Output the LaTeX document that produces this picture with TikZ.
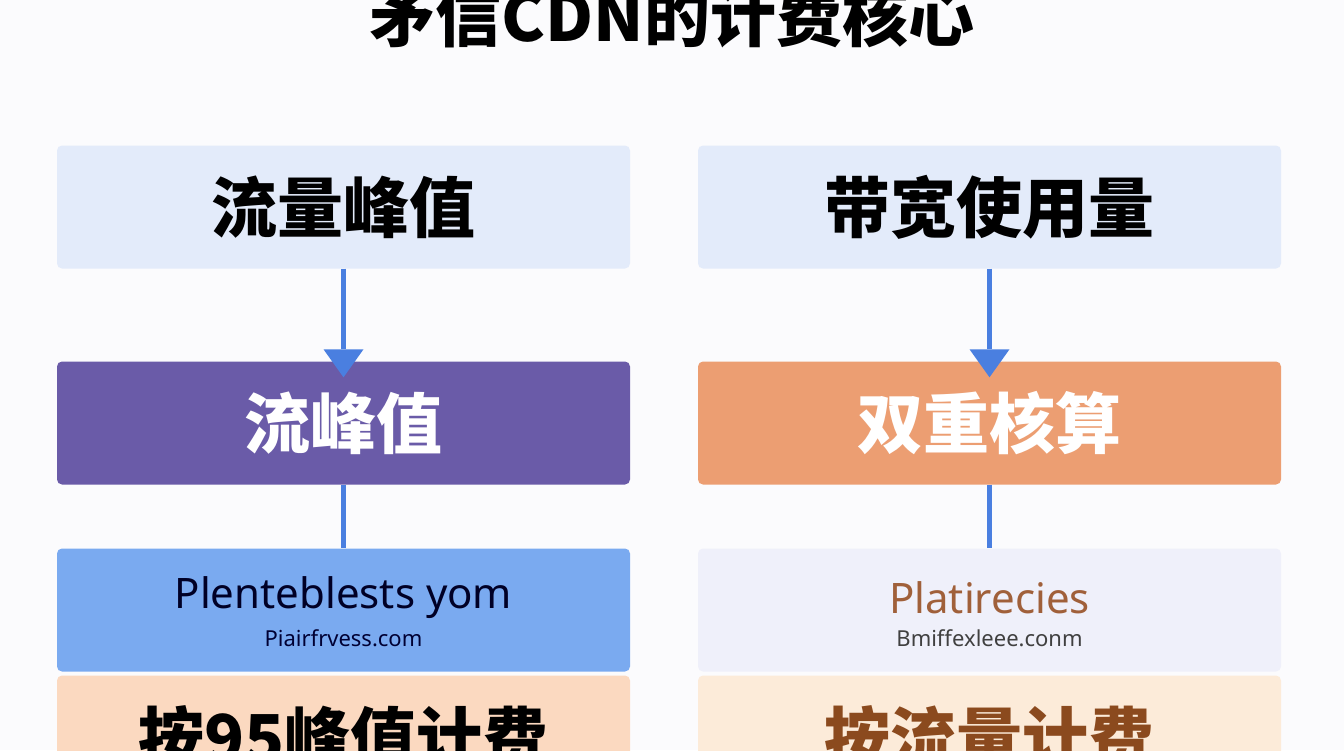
\documentclass[tikz,border=0pt]{standalone}
\usepackage{fontspec}
\setmainfont{Noto Sans CJK SC}
\newfontfamily\lat{Noto Sans}
\usetikzlibrary{arrows.meta}
\definecolor{bg}{HTML}{FBFBFD}
\definecolor{lb}{HTML}{E3EBFA}
\definecolor{pur}{HTML}{6A5BA8}
\definecolor{ora}{HTML}{EC9E72}
\definecolor{blu}{HTML}{7AAAF0}
\definecolor{lav}{HTML}{EFF0FA}
\definecolor{pea}{HTML}{FBD9C0}
\definecolor{pea2}{HTML}{FCEBD9}
\definecolor{arr}{HTML}{4A7FE0}
\definecolor{brn}{HTML}{A0603A}
\definecolor{dbrn}{HTML}{8B4A1E}
\begin{document}
\begin{tikzpicture}[x=1pt,y=-1pt,
 box/.style={rounded corners=5pt,inner sep=0pt,minimum height=123pt},
 lbox/.style={box,minimum width=573pt},
 rbox/.style={box,minimum width=583pt},
 big/.style={font=\fontsize{66}{66}\selectfont\bfseries},
 sub1/.style={font=\lat\fontsize{42}{44}\selectfont},
 sub2/.style={font=\lat\fontsize{22}{24}\selectfont},
 con/.style={draw=arr,line width=5pt},
 tip/.style={-{Triangle[width=40pt,length=28pt,line width=0pt,fill=arr]}}]
\fill[bg] (0,0) rectangle (1344,750);
\useasboundingbox (0,0) rectangle (1344,750);
\node[font=\fontsize{66}{66}\selectfont\bfseries] (t) at (672,16) {矛信CDN的计费核心};
\node[lbox,fill=lb,big] (a1) at (343.5,207) {流量峰值};
\node[rbox,fill=lb,big] (b1) at (989.5,207) {带宽使用量};
\node[lbox,fill=pur,big,text=white] (a2) at (343.5,423) {流峰值};
\node[rbox,fill=ora,big,text=white] (b2) at (989.5,423) {双重核算};
\node[lbox,fill=blu] (a3) at (343.5,610) {};
\node[rbox,fill=lav] (b3) at (989.5,610) {};
\node[sub1,text=black!85!blue] (a3t) at (343.5,598) {Plenteblests yom};
\node[sub2,text=black!80!blue] (a3s) at (343.5,638) {Piairfrvess.com};
\node[sub1,text=brn] (b3t) at (989.5,598) {Platirecies};
\node[sub2,text=black!75] (b3s) at (989.5,638) {Bmiffexleee.conm};
\node[lbox,fill=pea,big] (a4) at (343.5,737) {按95峰值计费};
\node[rbox,fill=pea2,big,text=dbrn] (b4) at (989.5,737) {按流量计费};
\coordinate (ea) at ([yshift=-16pt]a2.north);
\coordinate (eb) at ([yshift=-16pt]b2.north);
\draw[con,tip] (a1.south) -- (ea);
\draw[con,tip] (b1.south) -- (eb);
\draw[con] (a2.south) -- (a3.north);
\draw[con] (b2.south) -- (b3.north);
\end{tikzpicture}
\end{document}
